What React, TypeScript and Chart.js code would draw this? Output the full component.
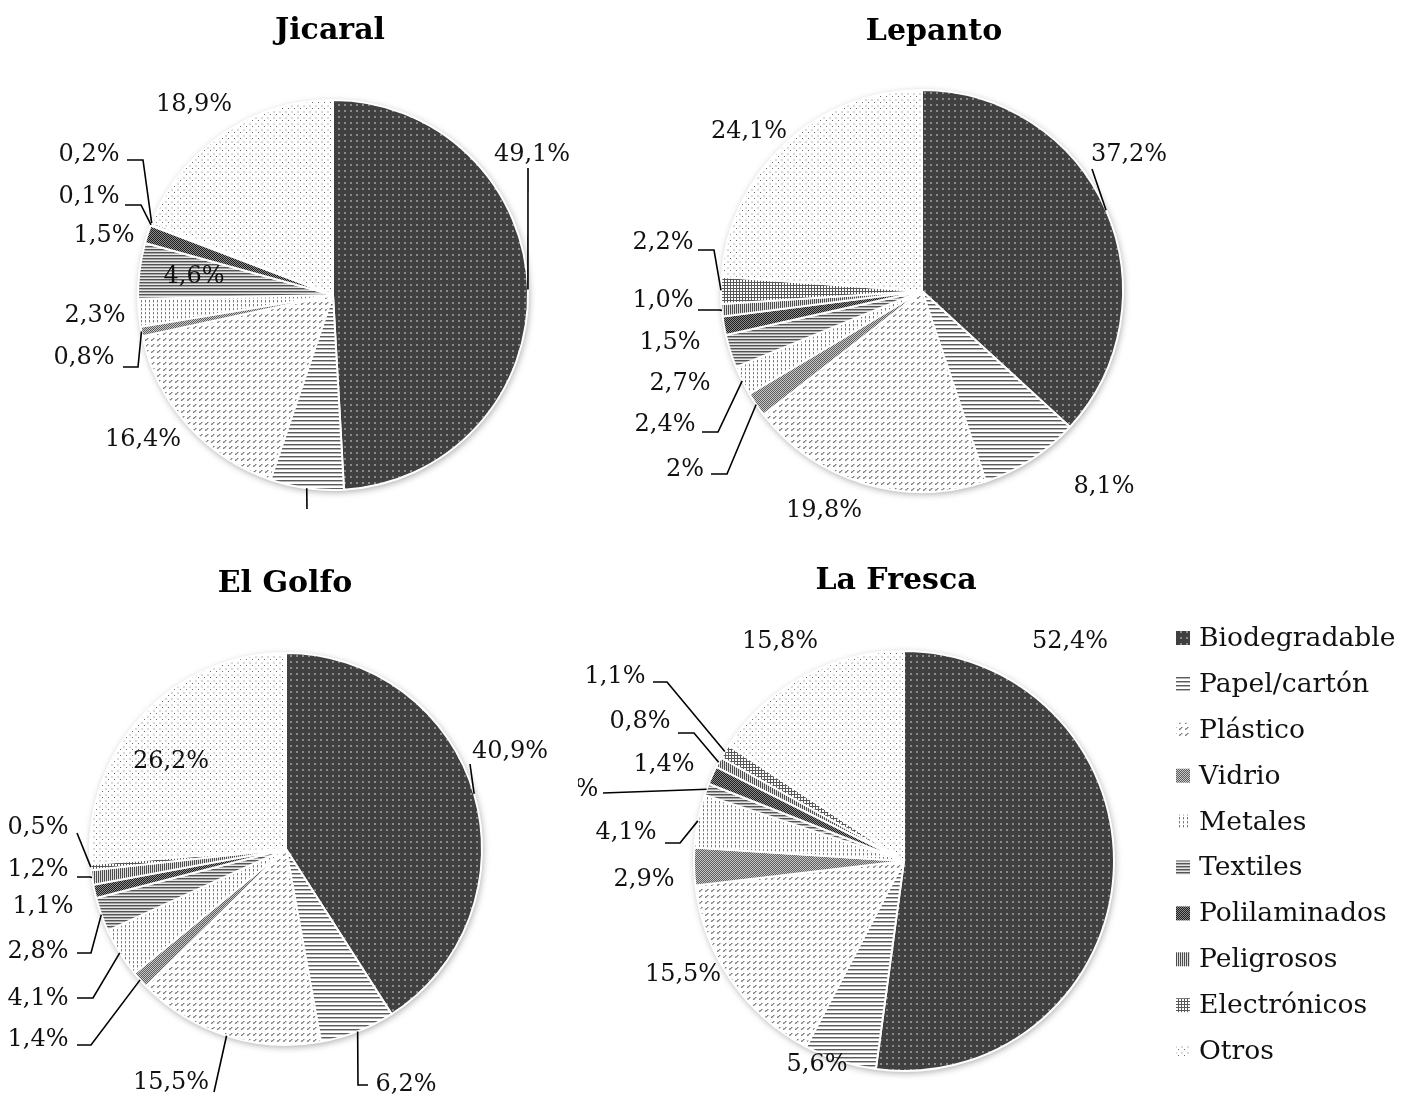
import React, { useEffect, useRef } from 'react';
import { Chart, registerables } from 'chart.js';

Chart.register(...registerables);

// ---------------- DATA ----------------
const categories = [
  'Biodegradable',
  'Papel/cartón',
  'Plástico',
  'Vidrio',
  'Metales',
  'Textiles',
  'Polilaminados',
  'Peligrosos',
  'Electrónicos',
  'Otros',
];

const jicaralValues = [49.1, 6.1, 16.4, 0.8, 2.3, 4.6, 1.5, 0.1, 0.2, 18.9];
const jicaralLabels = ['49,1%', '', '16,4%', '0,8%', '2,3%', '4,6%', '1,5%', '0,1%', '0,2%', '18,9%'];

const lepantoValues = [37.2, 8.1, 19.8, 2.0, 2.4, 2.7, 1.5, 1.0, 2.2, 24.1];
const lepantoLabels = ['37,2%', '8,1%', '19,8%', '2%', '2,4%', '2,7%', '1,5%', '1,0%', '2,2%', '24,1%'];

const elGolfoValues = [40.9, 6.2, 15.5, 1.4, 4.1, 2.8, 1.1, 1.2, 0.5, 26.2];
const elGolfoLabels = ['40,9%', '6,2%', '15,5%', '1,4%', '4,1%', '2,8%', '1,1%', '1,2%', '0,5%', '26,2%'];

const laFrescaValues = [52.4, 5.6, 15.5, 2.9, 4.1, 0.9, 1.4, 0.8, 1.1, 15.8];
const laFrescaLabels = ['52,4%', '5,6%', '15,5%', '2,9%', '4,1%', '%', '1,4%', '0,8%', '1,1%', '15,8%'];

// ---------------- LAYOUT (label placement relative to pie centre) ----------------
type Pt = [number, number];
interface Place { dx: number; dy: number; leader?: Pt[] }

const jicaralPlace: Place[] = [
  { dx: 199, dy: -140, leader: [[195, -127]] },
  { dx: -26, dy: 235, leader: [[-26, 214]] },
  { dx: -190, dy: 145 },
  { dx: -249, dy: 63, leader: [[-195, 72], [-210, 72]] },
  { dx: -238, dy: 21 },
  { dx: -139, dy: -18 },
  { dx: -229, dy: -59 },
  { dx: -244, dy: -98, leader: [[-192, -90], [-208, -90]] },
  { dx: -244, dy: -140, leader: [[-190, -135], [-206, -135]] },
  { dx: -139, dy: -190 },
];

const lepantoPlace: Place[] = [
  { dx: 207, dy: -136, leader: [[170, -122]] },
  { dx: 182, dy: 196 },
  { dx: -98, dy: 220 },
  { dx: -237, dy: 179, leader: [[-195, 183], [-211, 183]] },
  { dx: -257, dy: 134, leader: [[-204, 141], [-220, 141]] },
  { dx: -242, dy: 93 },
  { dx: -252, dy: 52 },
  { dx: -259, dy: 10, leader: [[-203, 19], [-224, 19]] },
  { dx: -259, dy: -48, leader: [[-208, -41], [-224, -41]] },
  { dx: -173, dy: -159 },
];

const elGolfoPlace: Place[] = [
  { dx: 224, dy: -97, leader: [[184, -85]] },
  { dx: 120, dy: 236, leader: [[72, 236], [82, 236]] },
  { dx: -115, dy: 234, leader: [[-72, 243]] },
  { dx: -248, dy: 191, leader: [[-195, 196], [-209, 196]] },
  { dx: -248, dy: 150, leader: [[-193, 149], [-209, 149]] },
  { dx: -248, dy: 103, leader: [[-195, 104], [-209, 104]] },
  { dx: -243, dy: 58 },
  { dx: -248, dy: 21, leader: [[-196, 28], [-209, 28]] },
  { dx: -248, dy: -21, leader: [[-209, -16]] },
  { dx: -115, dy: -87 },
];

const laFrescaPlace: Place[] = [
  { dx: 166, dy: -219 },
  { dx: -87, dy: 204 },
  { dx: -221, dy: 114 },
  { dx: -260, dy: 19 },
  { dx: -278, dy: -28, leader: [[-224, -18], [-239, -18]] },
  { dx: -317, dy: -71, leader: [[-301, -68]] },
  { dx: -240, dy: -96 },
  { dx: -264, dy: -139, leader: [[-210, -128], [-226, -128]] },
  { dx: -289, dy: -184, leader: [[-237, -179], [-251, -179]] },
  { dx: -124, dy: -219 },
];

interface Panel {
  title: string;
  values: number[];
  labels: string[];
  place: Place[];
  box: { x: number; y: number; w: number; h: number };
  center: { x: number; y: number };
  radius: number;
  titlePos: { x: number; y: number };
  legend?: { x: number; y: number; step: number };
}

const panels: Panel[] = [
  {
    title: 'Jicaral', values: jicaralValues, labels: jicaralLabels, place: jicaralPlace,
    box: { x: 0, y: 0, w: 666, h: 512 }, center: { x: 333, y: 295 }, radius: 195,
    titlePos: { x: 330, y: 31 },
  },
  {
    title: 'Lepanto', values: lepantoValues, labels: lepantoLabels, place: lepantoPlace,
    box: { x: 580, y: 0, w: 700, h: 540 }, center: { x: 922, y: 291 }, radius: 201,
    titlePos: { x: 934, y: 32 },
  },
  {
    title: 'El Golfo', values: elGolfoValues, labels: elGolfoLabels, place: elGolfoPlace,
    box: { x: 0, y: 545, w: 580, h: 551 }, center: { x: 286, y: 849 }, radius: 196,
    titlePos: { x: 285, y: 584 },
  },
  {
    title: 'La Fresca', values: laFrescaValues, labels: laFrescaLabels, place: laFrescaPlace,
    box: { x: 578, y: 545, w: 837, h: 551 }, center: { x: 904, y: 861 }, radius: 210,
    titlePos: { x: 896, y: 581 },
    legend: { x: 1176, y: 638, step: 45.9 },
  },
];

const FONT = '"DejaVu Serif", "Liberation Serif", serif';

// ---------------- PATTERNS ----------------
function tile(w: number, h: number, draw: (g: CanvasRenderingContext2D) => void) {
  const c = document.createElement('canvas');
  c.width = w;
  c.height = h;
  const g = c.getContext('2d')!;
  draw(g);
  return c;
}

function dots(g: CanvasRenderingContext2D, color: string, pts: number[][]) {
  g.fillStyle = color;
  pts.forEach(([x, y, w = 1, h = 1]) => g.fillRect(x, y, w, h));
}

function buildPatterns(ctx: CanvasRenderingContext2D): CanvasPattern[] {
  const bg = (g: CanvasRenderingContext2D, c: string, w: number, h: number) => {
    g.fillStyle = c;
    g.fillRect(0, 0, w, h);
  };
  const tiles = [
    // Biodegradable: dark with light square dots
    tile(6, 6, (g) => { bg(g, '#404040', 6, 6); dots(g, '#8a8a8a', [[2, 2, 2, 2]]); }),
    // Papel: horizontal lines
    tile(4, 4, (g) => { bg(g, '#ffffff', 4, 4); dots(g, '#5c5c5c', [[0, 0, 4, 1]]); dots(g, '#b4b4b4', [[0, 1, 4, 1]]); }),
    // Plástico: small diagonal strokes
    tile(6, 6, (g) => {
      bg(g, '#ffffff', 6, 6);
      dots(g, '#7e7e7e', [[1, 4], [2, 3], [3, 2]]);
      dots(g, '#bcbcbc', [[2, 4], [3, 3], [4, 2], [1, 3]]);
    }),
    // Vidrio: fine checker
    tile(2, 2, (g) => { bg(g, '#c6c6c6', 2, 2); dots(g, '#5e5e5e', [[0, 0], [1, 1]]); }),
    // Metales: dashed verticals
    tile(4, 4, (g) => { bg(g, '#ffffff', 4, 4); dots(g, '#7a7a7a', [[1, 0, 1, 2]]); dots(g, '#c8c8c8', [[1, 2, 1, 1]]); }),
    // Textiles: dense horizontal lines
    tile(1, 3, (g) => { bg(g, '#e6e6e6', 1, 3); dots(g, '#545454', [[0, 0]]); dots(g, '#a6a6a6', [[0, 1]]); }),
    // Polilaminados: dark checker
    tile(2, 2, (g) => { bg(g, '#8c8c8c', 2, 2); dots(g, '#1e1e1e', [[0, 0], [1, 1]]); }),
    // Peligrosos: dense vertical lines
    tile(2, 1, (g) => { bg(g, '#dedede', 2, 1); dots(g, '#4c4c4c', [[0, 0]]); }),
    // Electrónicos: grid
    tile(3, 3, (g) => { bg(g, '#ffffff', 3, 3); dots(g, '#585858', [[0, 0, 3, 1], [0, 0, 1, 3]]); }),
    // Otros: sparse light dots
    tile(6, 6, (g) => { bg(g, '#ffffff', 6, 6); dots(g, '#6a6a6a', [[0, 0]]); dots(g, '#dadada', [[3, 3, 2, 2]]); }),
  ];
  return tiles.map((t) => ctx.createPattern(t, 'repeat')!);
}

// ---------------- PLUGIN ----------------
function makePlugin(panel: Panel) {
  return {
    id: 'pieDecor',
    beforeDatasetsDraw(chart: any) {
      const a = chart.getDatasetMeta(0).data[0];
      if (!a) return;
      const p = a.getProps(['x', 'y', 'outerRadius'], true);
      const ctx: CanvasRenderingContext2D = chart.ctx;
      ctx.save();
      ctx.shadowColor = 'rgba(0,0,0,0.35)';
      ctx.shadowBlur = 7;
      ctx.shadowOffsetX = 1;
      ctx.shadowOffsetY = 2;
      ctx.beginPath();
      ctx.arc(p.x, p.y, p.outerRadius, 0, Math.PI * 2);
      ctx.fillStyle = '#ffffff';
      ctx.fill();
      ctx.restore();
    },
    afterDatasetsDraw(chart: any) {
      const ctx: CanvasRenderingContext2D = chart.ctx;
      const meta = chart.getDatasetMeta(0);
      ctx.save();
      ctx.font = `24px ${FONT}`;
      ctx.fillStyle = '#111';
      ctx.strokeStyle = '#000';
      ctx.lineWidth = 1.6;
      ctx.textAlign = 'center';
      ctx.textBaseline = 'middle';
      meta.data.forEach((arc: any, i: number) => {
        const p = arc.getProps(['x', 'y', 'startAngle', 'endAngle', 'outerRadius'], true);
        const mid = (p.startAngle + p.endAngle) / 2;
        const sp = panel.place[i];
        if (!sp) return;
        if (sp.leader) {
          ctx.beginPath();
          ctx.moveTo(p.x + Math.cos(mid) * p.outerRadius, p.y + Math.sin(mid) * p.outerRadius);
          sp.leader.forEach(([lx, ly]) => ctx.lineTo(p.x + lx, p.y + ly));
          ctx.stroke();
        }
        const txt = chart.data.datasets[0].labelTexts[i];
        if (txt) ctx.fillText(txt, p.x + sp.dx, p.y + sp.dy);
      });
      ctx.restore();
    },
    afterDraw(chart: any) {
      const ctx: CanvasRenderingContext2D = chart.ctx;
      ctx.save();
      ctx.font = `bold 30px ${FONT}`;
      ctx.fillStyle = '#000';
      ctx.textAlign = 'center';
      ctx.textBaseline = 'middle';
      ctx.fillText(panel.title, panel.titlePos.x - panel.box.x, panel.titlePos.y - panel.box.y);
      if (panel.legend) {
        const lg = panel.legend;
        const bgs = chart.data.datasets[0].backgroundColor;
        ctx.font = `26.6px ${FONT}`;
        ctx.textAlign = 'left';
        chart.data.labels.forEach((lab: string, i: number) => {
          const yy = lg.y - panel.box.y + i * lg.step;
          const xx = lg.x - panel.box.x;
          ctx.fillStyle = bgs[i];
          ctx.fillRect(xx, yy - 7, 14, 14);
          ctx.fillStyle = '#111';
          ctx.fillText(lab, xx + 23, yy + 1);
        });
      }
      ctx.restore();
    },
  };
}

function PieCanvas({ panel }: { panel: Panel }) {
  const ref = useRef<HTMLCanvasElement>(null);
  useEffect(() => {
    const canvas = ref.current!;
    const ctx = canvas.getContext('2d')!;
    const patterns = buildPatterns(ctx);
    const cx = panel.center.x - panel.box.x;
    const cy = panel.center.y - panel.box.y;
    const m = panel.radius + 4;
    const chart = new Chart(canvas, {
      type: 'pie',
      data: {
        labels: categories,
        datasets: [
          {
            data: panel.values,
            labelTexts: panel.labels,
            backgroundColor: patterns,
            borderColor: '#ffffff',
            borderWidth: 2,
          } as any,
        ],
      },
      options: {
        animation: false,
        responsive: false,
        radius: panel.radius,
        layout: {
          padding: {
            left: cx - m,
            right: panel.box.w - (cx + m),
            top: cy - m,
            bottom: panel.box.h - (cy + m),
          },
        },
        plugins: {
          legend: { display: false },
          tooltip: { enabled: false },
          title: { display: false },
        },
      } as any,
      plugins: [makePlugin(panel)],
    });
    return () => chart.destroy();
  }, [panel]);
  return (
    <canvas
      ref={ref}
      width={panel.box.w}
      height={panel.box.h}
      style={{ position: 'absolute', left: panel.box.x, top: panel.box.y, width: panel.box.w, height: panel.box.h }}
    />
  );
}

export default function App() {
  return (
    <div style={{ position: 'absolute', left: 0, top: 0, width: 1415, height: 1096, background: '#ffffff', overflow: 'hidden' }}>
      {panels.map((p) => (
        <PieCanvas key={p.title} panel={p} />
      ))}
    </div>
  );
}
